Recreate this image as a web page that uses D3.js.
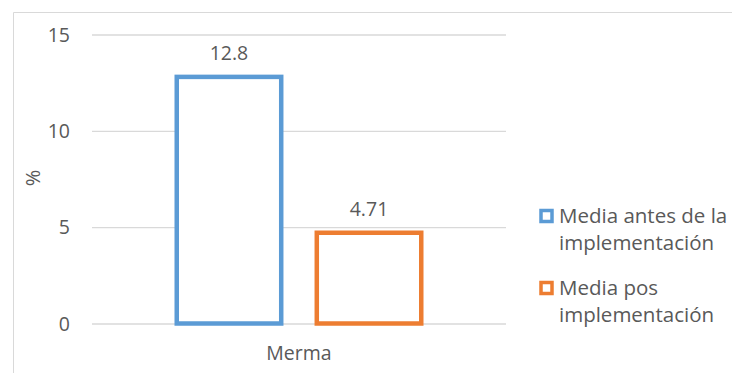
<!DOCTYPE html>
<html>
<head>
<meta charset="utf-8">
<script src="https://cdn.jsdelivr.net/npm/d3@7"></script>
<style>
  html, body { margin: 0; padding: 0; background: #fff; }
  svg { display: block; }
  text { font-family: "Open Sans", "Noto Sans", sans-serif; fill: #595959; }
</style>
</head>
<body>
<svg id="chart" width="732" height="373"></svg>
<script>
// Chart data
const categories = ["Merma"];
const seriesNames = ["Media antes de la implementación", "Media pos implementación"];
const seriesValues = [12.8, 4.71];
const valueLabels = ["12.8", "4.71"];
const yTicks = [0, 5, 10, 15];
const legendLines = [["Media antes de la", "implementación"], ["Media pos", "implementación"]];
const colors = ["#5b9bd5", "#ed7d31"];

const FONT = "19.5px";
const LEGEND_FONT = "20.5px";
const svg = d3.select("#chart");

// Chart-area frame (top and left edges visible)
svg.append("path")
  .attr("d", "M13.5,373 V12.5 H732")
  .attr("fill", "none")
  .attr("stroke", "#d9d9d9")
  .attr("stroke-width", 1);

const plot = { left: 92, right: 506, top: 34.5, bottom: 323.5 };

const y = d3.scaleLinear().domain([0, 15]).range([plot.bottom, plot.top]);
const x0 = d3.scaleBand().domain(categories).range([plot.left, plot.right])
  .paddingInner(0.2574).paddingOuter(0.2574);
const x1 = d3.scaleBand().domain(seriesNames).range([0, x0.bandwidth()])
  .paddingInner(0.254).paddingOuter(0);

// Gridlines and value ticks
const yAxis = d3.axisLeft(y).tickValues(yTicks).tickSize(-(plot.right - plot.left)).tickPadding(22);
const gy = svg.append("g").attr("transform", `translate(${plot.left},0)`).call(yAxis);
gy.select(".domain").remove();
gy.selectAll(".tick line").attr("stroke", "#d9d9d9").attr("stroke-width", 1.3);
gy.selectAll(".tick text")
  .style("font-size", FONT)
  .attr("fill", "#595959")
  .attr("dy", "0.35em");

// Bars (outlined, no fill)
const group = svg.append("g");
const bars = seriesNames.map((name, i) => ({ name, value: seriesValues[i], label: valueLabels[i], color: colors[i] }));
categories.forEach(cat => {
  const g = group.append("g").attr("transform", `translate(${x0(cat)},0)`);
  g.selectAll("rect").data(bars).join("rect")
    .attr("x", d => x1(d.name))
    .attr("y", d => y(d.value))
    .attr("width", x1.bandwidth())
    .attr("height", d => y(0) - y(d.value))
    .attr("fill", "#fff")
    .attr("stroke", d => d.color)
    .attr("stroke-width", 4.5);
  g.selectAll("text.val").data(bars).join("text")
    .attr("class", "val")
    .attr("x", d => x1(d.name) + x1.bandwidth() / 2)
    .attr("y", d => y(d.value) - 24)
    .attr("text-anchor", "middle")
    .attr("dy", "0.35em")
    .style("font-size", FONT)
    .text(d => d.label);
});

// Category axis label
const xAxis = d3.axisBottom(x0).tickSize(0).tickPadding(23);
const gx = svg.append("g").attr("transform", `translate(0,${plot.bottom})`).call(xAxis);
gx.select(".domain").remove();
gx.selectAll(".tick text").style("font-size", FONT).attr("fill", "#595959");

// Y axis title
svg.append("text")
  .attr("transform", "translate(33,178) rotate(-90)")
  .attr("text-anchor", "middle")
  .attr("dy", "0.35em")
  .style("font-size", "20px")
  .text("%");

// Legend
const legend = svg.append("g").attr("transform", "translate(539,0)");
const legendY = [216, 288];
legendLines.forEach((lines, i) => {
  const item = legend.append("g").attr("transform", `translate(0,${legendY[i]})`);
  item.append("rect")
    .attr("x", 2).attr("y", -5.5)
    .attr("width", 11).attr("height", 11)
    .attr("fill", "#fff")
    .attr("stroke", colors[i])
    .attr("stroke-width", 3.5);
  lines.forEach((ln, j) => {
    item.append("text")
      .attr("x", 20)
      .attr("y", j * 27)
      .attr("dy", "0.35em")
      .style("font-size", LEGEND_FONT)
      .text(ln);
  });
});
</script>
</body>
</html>
